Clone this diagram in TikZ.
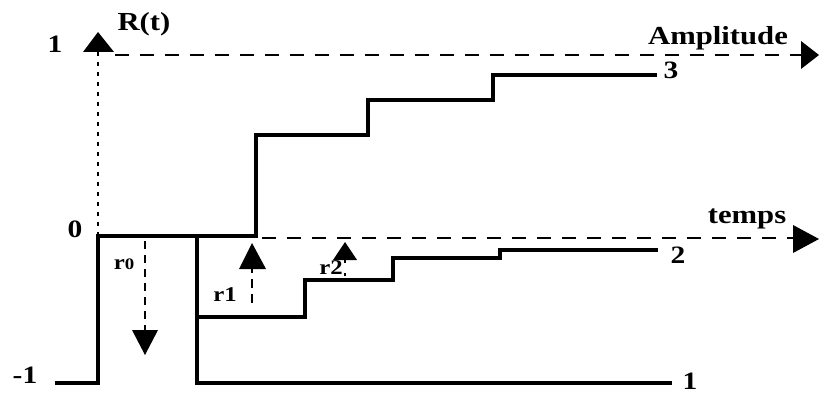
\documentclass[tikz,border=0pt]{standalone}
\usepackage{fontspec}
\setmainfont{Liberation Serif}[FakeStretch=1.18]
\begin{document}
\begin{tikzpicture}[x=1pt,y=-1pt,
  curve/.style={line width=4pt,line join=miter,line cap=butt},
  axisdash/.style={line width=1.4pt,dash pattern=on 14pt off 11pt},
  dotax/.style={line width=1.4pt,dash pattern=on 4pt off 6pt},
  tri/.style={fill=black,draw=none},
  lbl/.style={inner sep=0pt,font=\bfseries\fontsize{26}{30}\selectfont},
  num/.style={inner sep=0pt,font=\bfseries\fontsize{25}{28}\selectfont},
  rl/.style={inner sep=0pt,font=\bfseries\fontsize{21}{24}\selectfont}]
\useasboundingbox (0,0) rectangle (819,396);

% axes
\coordinate (yb) at (98,236);
\coordinate (yt) at (98,52);
\draw[dotax] (yb) -- (yt);
\fill[tri] (83,52) -- (114,52) -- (98,32) -- cycle;
\coordinate (a1) at (115,55);
\coordinate (a2) at (801,55);
\draw[axisdash] (a1) -- (a2);
\fill[tri] (801,41) -- (801,69) -- (819,55) -- cycle;
\coordinate (t1) at (262,238);
\coordinate (t2) at (794,238);
\draw[axisdash] (t1) -- (t2);
\fill[tri] (793,225) -- (793,253) -- (819,239) -- cycle;

% curves
\draw[curve] (55,383) -- (98,383) -- (98,236) -- (256,236) -- (256,135)
  -- (368,135) -- (368,100) -- (493,100) -- (493,75) -- (657,75);
\draw[curve] (197,236) -- (197,383) -- (672,383);
\draw[curve] (197,317) -- (305,317) -- (305,280) -- (393,280) -- (393,258)
  -- (500,258) -- (500,250) -- (658,250);

% r arrows
\coordinate (r0a) at (145,241);
\coordinate (r0b) at (145,330);
\draw[axisdash,dash pattern=on 8pt off 6pt] (r0a) -- (r0b);
\fill[tri] (132,330) -- (158,330) -- (145,355) -- cycle;
\coordinate (r1a) at (252,303);
\coordinate (r1b) at (252,269);
\draw[axisdash,dash pattern=on 9pt off 6pt] (r1a) -- (r1b);
\fill[tri] (239,269) -- (266,269) -- (252,243) -- cycle;
\coordinate (r2a) at (345,276);
\coordinate (r2b) at (345,260);
\draw[line width=1.2pt,dash pattern=on 3pt off 10pt] (r2a) -- (r2b);
\fill[tri] (333,260) -- (357,260) -- (345,242) -- cycle;

% labels
\node[lbl] (Rt) at (144,24) {R(t)};
\node[lbl] (amp) at (718,38) {Amplitude};
\node[lbl] (tps) at (747,219) {temps};
\node[num] (one) at (55,44) {1};
\node[num] (zero) at (75,229) {0};
\node[num] (mone) at (25,375) {-1};
\node[num] (l3) at (671,70) {3};
\node[num] (l2) at (678,255) {2};
\node[num] (l1) at (690,381) {1};
\node[rl] (r0) at (124,264) {r{\fontsize{16}{18}\selectfont 0}};
\node[rl] (r1) at (225,295) {r1};
\node[rl] (r2) at (331,268) {r2};
\end{tikzpicture}
\end{document}
